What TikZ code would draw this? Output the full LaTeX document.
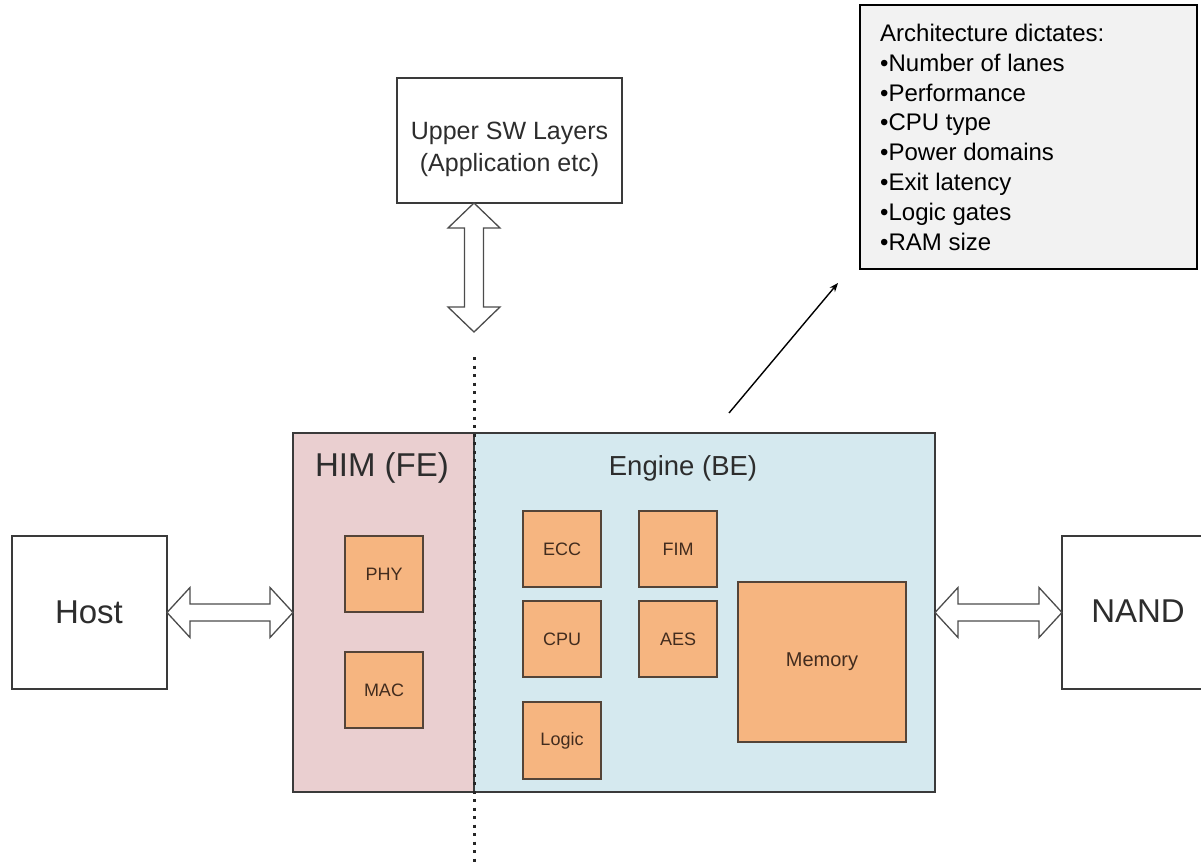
\documentclass[tikz,border=0pt]{standalone}
\usepackage{fontspec}
\setmainfont{Liberation Sans}
\usetikzlibrary{arrows.meta,calc}

\definecolor{himfill}{RGB}{234,207,208}
\definecolor{befill}{RGB}{213,233,239}
\definecolor{blockfill}{RGB}{246,181,128}
\definecolor{blockline}{RGB}{84,68,56}
\definecolor{blocktext}{RGB}{66,44,30}
\definecolor{frameline}{RGB}{58,58,58}
\definecolor{notefill}{RGB}{242,242,242}
\definecolor{labeltext}{RGB}{45,45,45}

\tikzset{
  plainbox/.style={draw=frameline, line width=1.6pt, fill=white, inner sep=0pt, outer sep=0pt},
  region/.style={draw=frameline, line width=1.6pt, inner sep=0pt, outer sep=0pt},
  block/.style={draw=blockline, line width=1.6pt, fill=blockfill, inner sep=0pt, outer sep=0pt,
                minimum width=78pt, minimum height=76pt, text=blocktext, font=\fontsize{18}{21}\selectfont},
  heading/.style={text=labeltext},
  fatarrow/.style={draw=black!70, line width=1.3pt, fill=white, line join=miter},
  divider/.style={line width=3pt, dash pattern=on 3pt off 5.5pt, black!85},
  note/.style={draw=black, line width=2pt, fill=notefill, inner sep=0pt, outer sep=0pt},
  pointer/.style={line width=1.4pt, -{Stealth[length=9pt,width=7pt]}}
}

% horizontal double block arrow between two tips
\newcommand{\hdoublearrow}[2]{%
  \draw[fatarrow] (#1) -- ++(23,25) -- ++(0,-16.5) -- ($(#2)+(-23,8.5)$) -- ++(0,16.5) -- (#2)
     -- ++(-23,-25) -- ++(0,16.5) -- ($(#1)+(23,-8.5)$) -- ++(0,-16.5) -- cycle;}
% vertical double block arrow between two tips (first one on top)
\newcommand{\vdoublearrow}[2]{%
  \draw[fatarrow] (#1) -- ++(26,25) -- ++(-16.5,0) -- ($(#2)+(9.5,-25)$) -- ++(16.5,0) -- (#2)
     -- ++(-26,-25) -- ++(16.5,0) -- ($(#1)+(-9.5,25)$) -- ++(-16.5,0) -- cycle;}

\begin{document}
\begin{tikzpicture}[x=1pt,y=-1pt]
\useasboundingbox (0,0) rectangle (1201,865);
\clip (0,0) rectangle (1201,865);

% upper software layers
\node[plainbox, minimum width=225pt, minimum height=125pt] (upper) at (509.5,140.5) {};
\node[heading, align=center, font=\fontsize{25}{32}\selectfont] (uppertxt) at (509.5,149) {Upper SW Layers\\(Application etc)};

% controller: front end and back end
\node[region, fill=himfill, minimum width=181pt, minimum height=359pt] (him) at (383.5,612.5) {};
\node[region, fill=befill, minimum width=461pt, minimum height=359pt] (be) at (704.5,612.5) {};
\node[heading, font=\fontsize{33}{38}\selectfont] (himtxt) at (382,468) {HIM (FE)};
\node[heading, font=\fontsize{27.5}{32}\selectfont] (betxt) at (683,468) {Engine (BE)};

% front-end blocks
\node[block] (phy) at (384,574) {PHY};
\node[block] (mac) at (384,690) {MAC};

% back-end blocks
\node[block] (ecc) at (562,549) {ECC};
\node[block] (fim) at (678,549) {FIM};
\node[block] (cpu) at (562,639) {CPU};
\node[block] (aes) at (678,639) {AES};
\node[block, minimum height=77pt] (logic) at (562,740.5) {Logic};
\node[block, minimum width=168pt, minimum height=160pt, font=\fontsize{20}{24}\selectfont] (mem) at (822,662) {Memory};

% host and flash
\node[plainbox, minimum width=155pt, minimum height=153pt] (host) at (89.5,612.5) {};
\node[heading, font=\fontsize{33}{38}\selectfont] (hosttxt) at (89,612) {Host};
\node[plainbox, minimum width=160pt, minimum height=153pt] (nand) at (1142,612.5) {};
\node[heading, font=\fontsize{33}{38}\selectfont] (nandtxt) at (1138,611) {NAND};

% interface arrows
\hdoublearrow{host.east}{him.west}
\hdoublearrow{be.east}{nand.west}

% split between software layers and the controller
\coordinate (splittop) at (474,357);
\coordinate (splitbot) at (474,866);
\coordinate (swtip) at (474,332);
\vdoublearrow{upper.south -| splittop}{swtip}
\draw[divider] (splittop) -- (splitbot);

% architecture note
\node[note, minimum width=337pt, minimum height=264pt] (note) at (1028.5,137) {};
\node[anchor=north west, align=left, font=\fontsize{24}{29.8}\selectfont, inner sep=0pt] (notetxt) at (880,24)
  {Architecture dictates:\\
   •Number of lanes\\
   •Performance\\
   •CPU type\\
   •Power domains\\
   •Exit latency\\
   •Logic gates\\
   •RAM size};
\coordinate (ptrfrom) at (729,413);
\coordinate (ptrto) at (838,283);
\draw[pointer] (ptrfrom) -- (ptrto);
\end{tikzpicture}
\end{document}
